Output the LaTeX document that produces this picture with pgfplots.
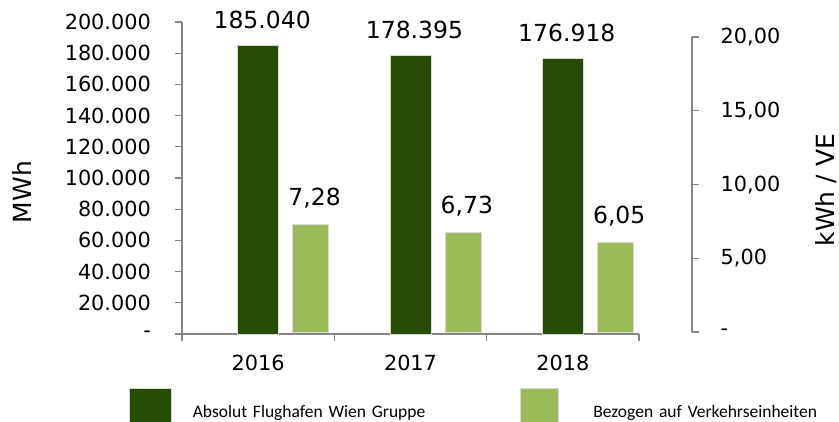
\documentclass[border=0pt]{standalone}
\usepackage{pgfplots}
\pgfplotsset{compat=1.18}
\usepackage{fontspec}
\setmainfont{DejaVu Sans}
\newfontfamily\legfont{Carlito}
\definecolor{dkgreen}{RGB}{38,75,2}
\definecolor{ltgreen}{RGB}{155,187,89}
\definecolor{axgray}{RGB}{134,134,134}
\begin{document}
\begin{tikzpicture}[x=1pt,y=1pt]
\useasboundingbox (0,0) rectangle (839,421);
\clip (0,0) rectangle (839,421);
\begin{axis}[
  at={(182pt,87pt)}, anchor=south west, scale only axis,
  width=457pt, height=312pt,
  xmin=-0.5, xmax=2.5, ymin=0, ymax=200000,
  scaled y ticks=false,
  axis x line=bottom, axis y line=left,
  axis line style={draw=axgray, line width=1.3pt, -},
  tick style={draw=axgray, line width=1.3pt},
  tick align=outside, major tick length=7pt,
  ytick={0,20000,...,200000},
  yticklabels={-,20.000,40.000,60.000,80.000,100.000,120.000,140.000,160.000,180.000,200.000},
  yticklabel style={font=\fontsize{20.8}{24}\selectfont, anchor=east, inner sep=0pt, xshift=-24pt},
  xtick={-0.5,0.5,1.5,2.5}, xticklabels={},
  extra x ticks={0,1,2}, extra x tick labels={2016,2017,2018},
  extra x tick style={major tick length=0pt, xticklabel style={font=\fontsize{20.8}{24}\selectfont, anchor=north, inner sep=0pt, yshift=-21pt}},
  ylabel={MWh},
  ylabel style={at={(axis description cs:-0.350,0.455)}, anchor=center, font=\fontsize{25}{30}\selectfont},
  ybar, bar width=41pt, bar shift=0pt, clip=false,
  nodes near coords, point meta=explicit symbolic,
  every node near coord/.append style={font=\fontsize{23.5}{28}\selectfont, anchor=base, inner sep=0pt, yshift=17pt, xshift=4pt, text=black},
  legend columns=2,
  legend cell align=left,
  legend style={draw=none, fill=none, inner sep=0pt, outer sep=0pt,
    at={(axis description cs:-0.116,-0.2404)}, anchor=west,
    font=\legfont\fontsize{17.5}{20}\selectfont,
    nodes={inner sep=0pt, text width=327pt},
    /tikz/every even column/.append style={column sep=0pt}},
]
\addplot[fill=dkgreen, draw=white!85!black, line width=0.8pt,
  legend image code/.code={\draw[fill=dkgreen, draw=white!85!black, line width=0.8pt] (0pt,-18pt) rectangle (42pt,24pt); \path (63pt,0pt);}]
  coordinates {(0,185040) [185.040] (1,178395) [178.395] (2,176918) [176.918]};
\addlegendentry{Absolut Flughafen Wien Gruppe}
\addlegendimage{legend image code/.code={\draw[fill=ltgreen, draw=white!85!black, line width=0.8pt] (0pt,-18pt) rectangle (38pt,24pt); \path (73pt,0pt);}}
\addlegendentry{Bezogen auf Verkehrseinheiten}
\end{axis}
\begin{axis}[
  at={(182pt,89pt)}, anchor=south west, scale only axis,
  width=510pt, height=295pt,
  xmin=-0.5, xmax=2.848, ymin=0, ymax=20,
  axis x line=none, axis y line=right,
  axis line style={draw=axgray, line width=1.3pt, -},
  tick style={draw=axgray, line width=1.3pt},
  tick align=outside, major tick length=6.5pt,
  ytick={0,5,10,15,20},
  yticklabels={-,{5,00},{10,00},{15,00},{20,00}},
  yticklabel style={font=\fontsize{20.8}{24}\selectfont, anchor=west, inner sep=0pt, xshift=22pt},
  ylabel={kWh / VE},
  ylabel style={at={(axis description cs:1.263,0.481)}, anchor=center, font=\fontsize{25}{30}\selectfont},
  ybar, bar width=36pt, bar shift=0pt, clip=false,
  nodes near coords, point meta=explicit symbolic,
  every node near coord/.append style={font=\fontsize{23.5}{28}\selectfont, anchor=base, inner sep=0pt, yshift=19pt, xshift=4pt, text=black},
]
\addplot[fill=ltgreen, draw=white!85!black, line width=0.8pt]
  coordinates {(0.344,7.28) [{7,28}] (1.344,6.73) [{6,73}] (2.344,6.05) [{6,05}]};
\end{axis}
\end{tikzpicture}
\end{document}
